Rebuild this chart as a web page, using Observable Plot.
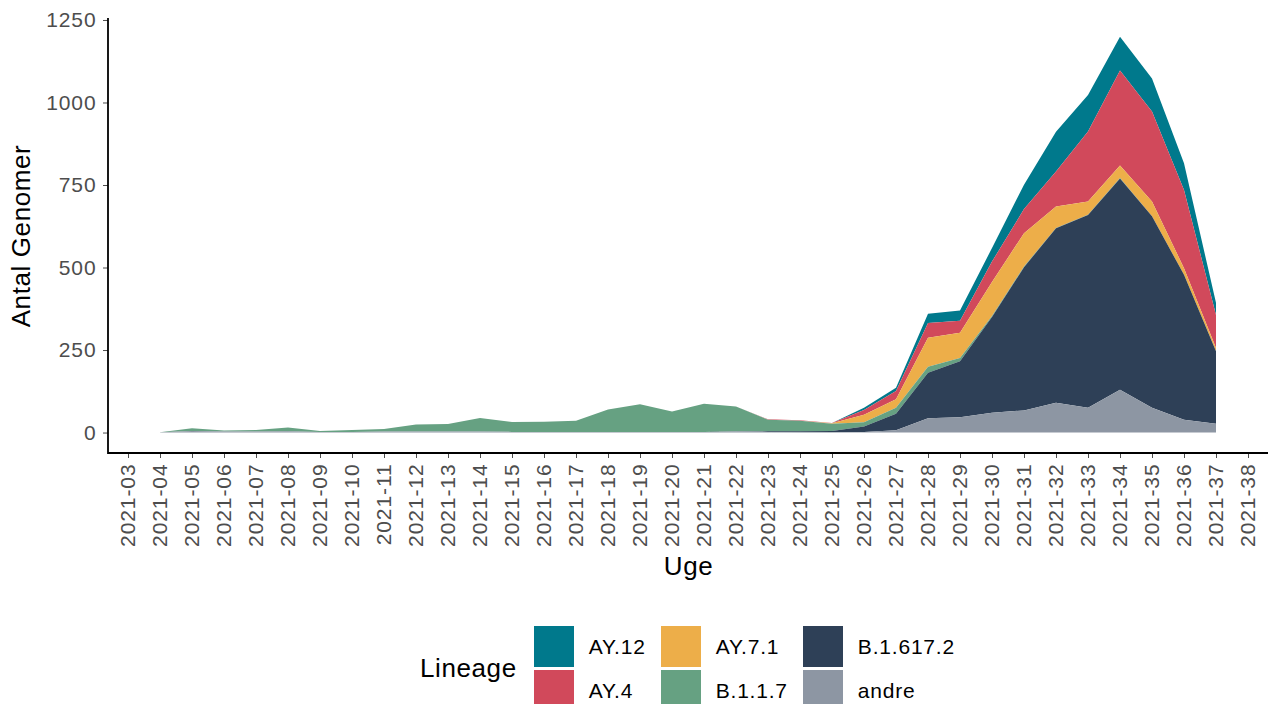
<!DOCTYPE html>
<html>
<head>
<meta charset="utf-8">
<script src="https://cdn.jsdelivr.net/npm/d3@7"></script>
<script src="https://cdn.jsdelivr.net/npm/@observablehq/plot@0.6"></script>
<style>
  body { margin: 0; background: #fff; font-family: "Liberation Sans", Arial, sans-serif; }
  #wrap { position: relative; width: 1268px; height: 704px; overflow: hidden; background: #fff; }
  #chart svg { display: block; }
  #chart svg text { letter-spacing: 0.9px; }
  #chart g[aria-label="x-axis label"] text,
  #chart g[aria-label="y-axis label"] text { font-size: 26px; fill: #000; letter-spacing: 0.6px; }
  #legend { position: absolute; left: 420px; top: 626px; display: flex; align-items: center; }
  #legend .ltitle { font-size: 26px; color: #000; margin-right: 17px; letter-spacing: 0.6px; }
  #legend .lgrid { display: grid; grid-auto-flow: column; grid-template-rows: 41px 41px; row-gap: 3px; column-gap: 15px; }
  #legend .item { display: flex; align-items: center; }
  #legend .key { width: 40px; height: 41px; display: inline-block; }
  #legend .lab { margin-left: 15px; font-size: 21px; color: #000; letter-spacing: 0.8px; }
</style>
</head>
<body>
<div id="wrap">
  <div id="chart"></div>
  <div id="legend"></div>
</div>
<script>
// Axis categories (x tick labels)
const weekTicks = ["2021-03","2021-04","2021-05","2021-06","2021-07","2021-08","2021-09","2021-10","2021-11","2021-12",
  "2021-13","2021-14","2021-15","2021-16","2021-17","2021-18","2021-19","2021-20","2021-21","2021-22",
  "2021-23","2021-24","2021-25","2021-26","2021-27","2021-28","2021-29","2021-30","2021-31","2021-32",
  "2021-33","2021-34","2021-35","2021-36","2021-37","2021-38"];

// Weeks with data
const dataWeeks = ["2021-04","2021-05","2021-06","2021-07","2021-08","2021-09","2021-10","2021-11","2021-12","2021-13",
  "2021-14","2021-15","2021-16","2021-17","2021-18","2021-19","2021-20","2021-21","2021-22","2021-23",
  "2021-24","2021-25","2021-26","2021-27","2021-28","2021-29","2021-30","2021-31","2021-32","2021-33",
  "2021-34","2021-35","2021-36","2021-37"];

// Lineages (legend order) and colours
const lineages = ["AY.12","AY.4","AY.7.1","B.1.1.7","B.1.617.2","andre"];
const colors = ["#00798c","#d1495b","#edae49","#66a182","#2e4057","#8d96a3"];
// stacking order, bottom to top
const stackOrder = ["andre","B.1.617.2","B.1.1.7","AY.7.1","AY.4","AY.12"];

// Series values (genomes per week), weeks 04..37
const andre    = [1,5,3,3,4,2,2,3,3,3, 3,2,2,2,2,2,2,2,3,2, 1,1,2,7,43,46,60,67,90,75, 130,75,39,27];
const b16172   = [0,0,0,0,0,0,0,0,0,0, 0,0,0,0,0,0,0,0,1,2, 3,4,16,50,138,170,290,434,529,584, 640,580,439,219];
const b117     = [0,8,3,5,11,3,6,8,21,23, 41,30,31,34,68,84,62,85,75,35, 32,22,13,18,18,10,3,2,1,1, 1,0,0,0];
const ay71     = [0,0,0,0,0,0,0,0,0,0, 0,0,0,0,0,0,0,0,0,0, 0,1,23,26,88,76,103,101,65,40, 38,45,20,10];
const ay4      = [0,0,0,0,0,0,0,0,0,0, 0,0,0,0,0,0,0,0,0,1, 1,1,14,25,45,37,62,73,106,212, 288,273,237,100];
const ay12     = [0,0,0,0,0,0,0,0,0,0, 0,0,0,0,0,0,0,0,0,0, 0,0,7,10,28,31,41,74,120,111, 102,100,81,37];

const yTicks = [0, 250, 500, 750, 1000, 1250];
const yDomain = [-62, 1256];

const series = {"AY.12": ay12, "AY.4": ay4, "AY.7.1": ay71, "B.1.1.7": b117, "B.1.617.2": b16172, "andre": andre};
const rows = lineages.flatMap(l => dataWeeks.map((w, i) => ({week: w, lineage: l, n: series[l][i]})));

const chart = Plot.plot({
  width: 1268,
  height: 600,
  marginLeft: 108,
  marginRight: 0,
  marginTop: 18,
  marginBottom: 147,
  style: {fontFamily: "'Liberation Sans', Arial, sans-serif", fontSize: "21px", background: "white", overflow: "visible"},
  x: {type: "point", domain: weekTicks, padding: 0.62},
  y: {domain: yDomain},
  color: {domain: lineages, range: colors},
  marks: [
    Plot.areaY(rows, Plot.stackY({x: "week", y: "n", z: "lineage", fill: "lineage", order: stackOrder})),
    Plot.axisY({ticks: yTicks, tickFormat: d => String(d), tickSize: 5, tickPadding: 7, color: "#4d4d4d",
      label: "Antal Genomer", labelAnchor: "center", labelOffset: 97, labelArrow: "none"}),
    Plot.axisX({tickRotate: -90, tickSize: 5, tickPadding: 5, color: "#4d4d4d",
      label: "Uge", labelAnchor: "center", labelOffset: 121, labelArrow: "none"})
  ]
});

// axis lines (theme_classic style)
const xs = chart.scale("x"), ys = chart.scale("y");
const [xa, xb] = xs.range, [yb, yt] = ys.range;
d3.select(chart).append("path")
  .attr("d", `M${xa},${yt}V${yb}H${xb}`)
  .attr("fill", "none").attr("stroke", "#000").attr("stroke-width", 1.8);

document.getElementById("chart").appendChild(chart);

// legend
const legend = d3.select("#legend");
legend.append("div").attr("class", "ltitle").text("Lineage");
const grid = legend.append("div").attr("class", "lgrid");
lineages.forEach((l, i) => {
  const item = grid.append("div").attr("class", "item");
  item.append("span").attr("class", "key").style("background", colors[i]);
  item.append("span").attr("class", "lab").text(l);
});
</script>
</body>
</html>
